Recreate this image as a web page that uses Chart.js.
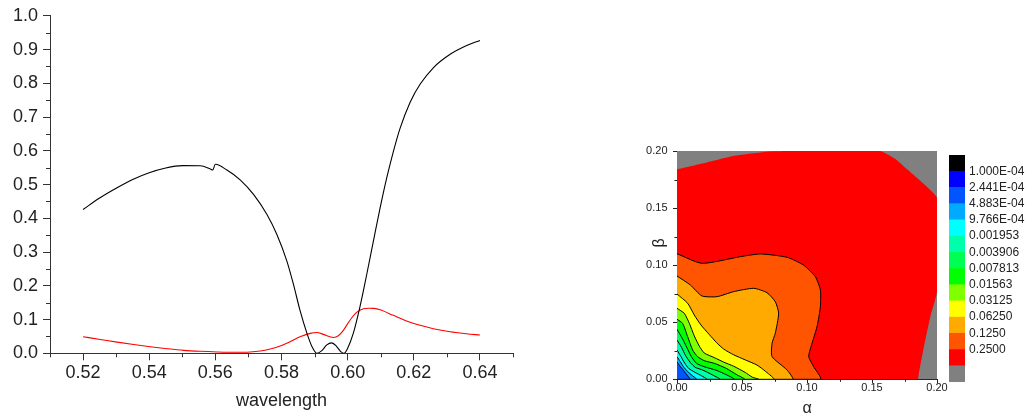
<!DOCTYPE html>
<html><head><meta charset="utf-8">
<script src="https://cdn.jsdelivr.net/npm/chart.js@4.4.1/dist/chart.umd.min.js"></script>
<style>
html,body{margin:0;padding:0;background:#fff;width:1032px;height:418px;overflow:hidden}
canvas{position:absolute}
</style></head><body>
<canvas id="spec" width="530" height="418" style="left:0;top:0;width:530px;height:418px"></canvas>
<canvas id="contour" width="355" height="288" style="left:600px;top:130px;width:355px;height:288px"></canvas>
<canvas id="cbar" width="92" height="260" style="left:940px;top:140px;width:92px;height:260px"></canvas>
<script>
// ---------- left panel data ----------
const blackWl  = [0.520,0.525,0.530,0.535,0.540,0.545,0.550,0.5554,0.5585,0.5592,0.5600,0.5635,0.5675,0.5716,0.5756,0.5786,0.5816,0.5836,0.5856,0.5877,0.5893,0.5907,0.5922,0.5937,0.5952,0.5967,0.5980,0.5989,0.6000,0.6017,0.6037,0.6058,0.6078,0.6098,0.6118,0.6138,0.6158,0.6189,0.6219,0.6259,0.6310,0.6360,0.6400];
const blackVal = [0.426,0.460,0.489,0.515,0.535,0.549,0.556,0.5555,0.546,0.543,0.560,0.543,0.514,0.470,0.411,0.352,0.274,0.205,0.127,0.059,0.018,0.000,0.008,0.025,0.031,0.020,0.004,0.000,0.015,0.059,0.137,0.235,0.333,0.430,0.519,0.597,0.665,0.744,0.797,0.846,0.886,0.912,0.927];
const redWl  = [0.520,0.5252,0.5303,0.5353,0.5403,0.5454,0.5504,0.5554,0.5605,0.5655,0.5705,0.5736,0.5766,0.5796,0.5826,0.5856,0.5887,0.5907,0.5927,0.5957,0.5972,0.5987,0.6007,0.6028,0.6048,0.6063,0.6080,0.6098,0.6138,0.6178,0.6219,0.6259,0.6310,0.6360,0.6400];
const redVal = [0.049,0.041,0.033,0.026,0.0196,0.0137,0.0088,0.0059,0.0040,0.0030,0.0040,0.0070,0.013,0.0215,0.034,0.049,0.059,0.0617,0.056,0.047,0.052,0.068,0.098,0.122,0.132,0.1335,0.133,0.129,0.1125,0.096,0.083,0.073,0.064,0.058,0.054];
const specXTicks = [0.52,0.54,0.56,0.58,0.60,0.62,0.64];
const specXMinor = [0.51,0.53,0.55,0.57,0.59,0.61,0.63,0.65];
const specYTicks = [0,0.1,0.2,0.3,0.4,0.5,0.6,0.7,0.8,0.9,1.0];
const specYMinor = [0.05,0.15,0.25,0.35,0.45,0.55,0.65,0.75,0.85,0.95];

// ---------- right panel data (alpha, beta) ----------
const domain   = [[0,0],[0,0.2],[0.2,0.2],[0.2,0]];
const redEdge  = [[0,0.184],[0.023,0.19],[0.045,0.196],[0.069,0.1994],[0.085,0.2],[0.156,0.2],[0.168,0.193],[0.177,0.184],[0.192,0.169],[0.2,0.159],[0.2,0.077],[0.1949,0.0549],[0.191,0.0345],[0.189,0.023],[0.186,0.005],[0.185,0]];
const c0250    = [[0,0.11],[0.0192,0.1016],[0.0487,0.1074],[0.0641,0.1098],[0.0846,0.1069],[0.0974,0.1],[0.1064,0.0899],[0.1103,0.0782],[0.1103,0.0637],[0.1077,0.0461],[0.1031,0.0286],[0.1013,0.0199],[0.1051,0.0111],[0.1103,0]];
const c0125    = [[0,0.0905],[0.0103,0.0826],[0.0192,0.073],[0.0308,0.0724],[0.0436,0.0768],[0.059,0.0797],[0.0692,0.0759],[0.0756,0.068],[0.0782,0.0578],[0.0756,0.0403],[0.0731,0.0315],[0.0731,0.0199],[0.0846,0.0082],[0.0889,0]];
const c0625    = [[0,0.0747],[0.0082,0.0666],[0.0133,0.0563],[0.0184,0.0476],[0.025,0.039],[0.0305,0.032],[0.0359,0.0265],[0.0435,0.0215],[0.0525,0.017],[0.0615,0.0125],[0.068,0.007],[0.0744,0]];
const c03125   = [[0,0.0622],[0.0056,0.0578],[0.0095,0.049],[0.0133,0.038],[0.0172,0.029],[0.021,0.023],[0.0287,0.019],[0.036,0.015],[0.0435,0.0115],[0.0525,0.006],[0.0577,0.002],[0.0627,0]];
const c01563   = [[0,0.0526],[0.0043,0.049],[0.0082,0.0373],[0.012,0.0257],[0.0159,0.0198],[0.021,0.0163],[0.0287,0.014],[0.038,0.0095],[0.046,0.004],[0.052,0]];
const c007813  = [[0,0.0438],[0.004,0.036],[0.0075,0.028],[0.011,0.02],[0.015,0.014],[0.021,0.011],[0.03,0.008],[0.038,0.004],[0.044,0]];
const c003906  = [[0,0.0344],[0.0035,0.028],[0.0065,0.021],[0.01,0.015],[0.014,0.0105],[0.02,0.008],[0.027,0.004],[0.033,0]];
const c001953  = [[0,0.0257],[0.003,0.02],[0.006,0.014],[0.009,0.0095],[0.014,0.006],[0.019,0.003],[0.023,0]];
const c000977  = [[0,0.0198],[0.0025,0.0155],[0.005,0.011],[0.008,0.007],[0.0115,0.0035],[0.015,0]];
const c000488  = [[0,0.0154],[0.002,0.012],[0.0045,0.0085],[0.0075,0.004],[0.01,0]];
const abTicks  = [0,0.05,0.10,0.15,0.20];
const abMinor  = [0.025,0.075,0.125,0.175];

// ---------- colour bar ----------
const bandColors  = ['#808080','#ff0000','#ff5500','#ffaa00','#ffff00','#80ff00','#00ff00','#00ff55','#00ffaa','#00ffff','#00aaff','#0055ff','#0000ff','#000000'];
const bandSize    = [1,1,1,1,1,1,1,1,1,1,1,1,1,1];
const levelLabels = ['0.2500','0.1250','0.06250','0.03125','0.01563','0.007813','0.003906','0.001953','9.766E-04','4.883E-04','2.441E-04','1.000E-04'];

Chart.defaults.font.family = "'Liberation Sans', Arial, sans-serif";
Chart.defaults.color = '#222';

const minorTickPlugin = {
  id: 'minorTicks',
  afterDraw(chart, args, o) {
    const {ctx, chartArea, scales} = chart;
    ctx.save();
    ctx.strokeStyle = o.color; ctx.lineWidth = 1;
    ctx.beginPath();
    (o.x || []).forEach(v => {
      const p = Math.round(scales.x.getPixelForValue(v)) + 0.5;
      ctx.moveTo(p, chartArea.bottom); ctx.lineTo(p, chartArea.bottom + o.len);
    });
    (o.y || []).forEach(v => {
      const p = Math.round(scales.y.getPixelForValue(v)) + 0.5;
      ctx.moveTo(chartArea.left, p); ctx.lineTo(chartArea.left - o.len, p);
    });
    ctx.stroke();
    ctx.restore();
  }
};

const toXY = (xs, ys) => xs.map((x, i) => ({x, y: ys[i]}));

new Chart(document.getElementById('spec'), {
  type: 'scatter',
  data: { datasets: [
    { data: toXY(blackWl, blackVal), showLine: true, borderColor: '#000', borderWidth: 1.1, pointRadius: 0, cubicInterpolationMode: 'monotone', fill: false },
    { data: toXY(redWl, redVal), showLine: true, borderColor: '#ff0000', borderWidth: 1.1, pointRadius: 0, cubicInterpolationMode: 'monotone', fill: false }
  ]},
  options: {
    responsive: false, animation: false, devicePixelRatio: 1,
    layout: { padding: { left: 0, top: 12.7, right: 17, bottom: 0 } },
    plugins: { legend: { display: false }, tooltip: { enabled: false },
      minorTicks: { x: specXMinor, y: specYMinor, len: 4, color: '#333' } },
    scales: {
      x: { type: 'linear', min: 0.51, max: 0.65,
        afterBuildTicks: s => { s.ticks = specXTicks.map(v => ({value: v})); },
        afterFit: s => { s.height = 64.7; },
        ticks: { callback: v => v.toFixed(2), padding: 2, font: { size: 18 }, color: '#222', maxRotation: 0, autoSkip: false },
        grid: { drawOnChartArea: false, tickLength: 7, tickColor: '#333' },
        border: { color: '#333' },
        title: { display: true, text: 'wavelength', font: { size: 18 }, color: '#222', padding: { top: 0, bottom: 6 } } },
      y: { type: 'linear', min: 0, max: 1,
        afterBuildTicks: s => { s.ticks = specYTicks.map(v => ({value: v})); },
        afterFit: s => { s.width = 50; },
        ticks: { callback: v => v.toFixed(1), padding: 5, font: { size: 18 }, color: '#222', autoSkip: false },
        grid: { drawOnChartArea: false, tickLength: 7, tickColor: '#333' },
        border: { color: '#333' } }
    }
  },
  plugins: [minorTickPlugin]
});

const regions = [
  { pts: domain,  color: bandColors[0],  line: false, closeAtOrigin: false },
  { pts: redEdge, color: bandColors[1],  line: false, closeAtOrigin: true },
  { pts: c0250,   color: bandColors[2],  line: true,  closeAtOrigin: true },
  { pts: c0125,   color: bandColors[3],  line: true,  closeAtOrigin: true },
  { pts: c0625,   color: bandColors[4],  line: true,  closeAtOrigin: true },
  { pts: c03125,  color: bandColors[5],  line: true,  closeAtOrigin: true },
  { pts: c01563,  color: bandColors[6],  line: true,  closeAtOrigin: true },
  { pts: c007813, color: bandColors[7],  line: true,  closeAtOrigin: true },
  { pts: c003906, color: bandColors[8],  line: true,  closeAtOrigin: true },
  { pts: c001953, color: bandColors[9],  line: true,  closeAtOrigin: true },
  { pts: c000977, color: bandColors[10], line: true,  closeAtOrigin: true },
  { pts: c000488, color: bandColors[11], line: true,  closeAtOrigin: true }
];

const contourSets = regions.map((r, i) => {
  const pts = r.pts.map(p => ({x: p[0], y: p[1]}));
  if (r.closeAtOrigin) pts.push({x: 0, y: 0});
  return {
    data: pts, showLine: true, fill: 'shape', backgroundColor: r.color,
    borderColor: r.line ? '#000' : 'rgba(0,0,0,0)', borderWidth: r.line ? 1 : 0,
    pointRadius: 0, tension: r.closeAtOrigin && r.line ? 0.2 : 0.15, order: regions.length - i
  };
});

new Chart(document.getElementById('contour'), {
  type: 'scatter',
  data: { datasets: contourSets },
  options: {
    responsive: false, animation: false, devicePixelRatio: 1,
    layout: { padding: { left: 0, top: 21, right: 18, bottom: 0 } },
    plugins: { legend: { display: false }, tooltip: { enabled: false },
      minorTicks: { x: abMinor, y: abMinor, len: 2.5, color: '#222' } },
    scales: {
      x: { type: 'linear', min: 0, max: 0.2,
        afterBuildTicks: s => { s.ticks = abTicks.map(v => ({value: v})); },
        afterFit: s => { s.height = 38.7; },
        ticks: { callback: v => v.toFixed(2), padding: -2, font: { size: 11 }, color: '#222', maxRotation: 0, autoSkip: false },
        grid: { drawOnChartArea: false, tickLength: 4, tickColor: '#222' },
        border: { color: '#222' },
        title: { display: true, text: 'α', font: { size: 16 }, color: '#222', padding: { top: 0, bottom: 0 } } },
      y: { type: 'linear', min: 0, max: 0.2,
        afterBuildTicks: s => { s.ticks = abTicks.map(v => ({value: v})); },
        afterFit: s => { s.width = 77; },
        ticks: { callback: v => v.toFixed(2), padding: 5.5, font: { size: 11 }, color: '#222', autoSkip: false },
        grid: { drawOnChartArea: false, tickLength: 4, tickColor: '#222' },
        border: { color: '#222' },
        title: { display: true, text: '          β', font: { size: 16 }, color: '#222', padding: { top: 50.4, bottom: 0 } } }
    }
  },
  plugins: [minorTickPlugin]
});

new Chart(document.getElementById('cbar'), {
  type: 'bar',
  data: { labels: [''], datasets: bandColors.map((c, i) => ({
    data: [bandSize[i]], backgroundColor: c, borderWidth: 0, barPercentage: 1, categoryPercentage: 1
  })) },
  options: {
    responsive: false, animation: false, devicePixelRatio: 1,
    layout: { padding: { left: 9, top: 15, right: 0, bottom: 18 } },
    plugins: { legend: { display: false }, tooltip: { enabled: false } },
    scales: {
      x: { display: false, stacked: true },
      y: { stacked: true, position: 'right', min: 0, max: 14,
        afterBuildTicks: s => { s.ticks = levelLabels.map((_, i) => ({value: i + 2})); },
        afterFit: s => { s.width = 67; },
        ticks: { callback: v => levelLabels[v - 2], padding: 4, font: { size: 12 }, color: '#222', autoSkip: false },
        grid: { display: false, drawTicks: false, tickLength: 0 }, border: { display: false } }
    }
  }
});
</script>
</body></html>
